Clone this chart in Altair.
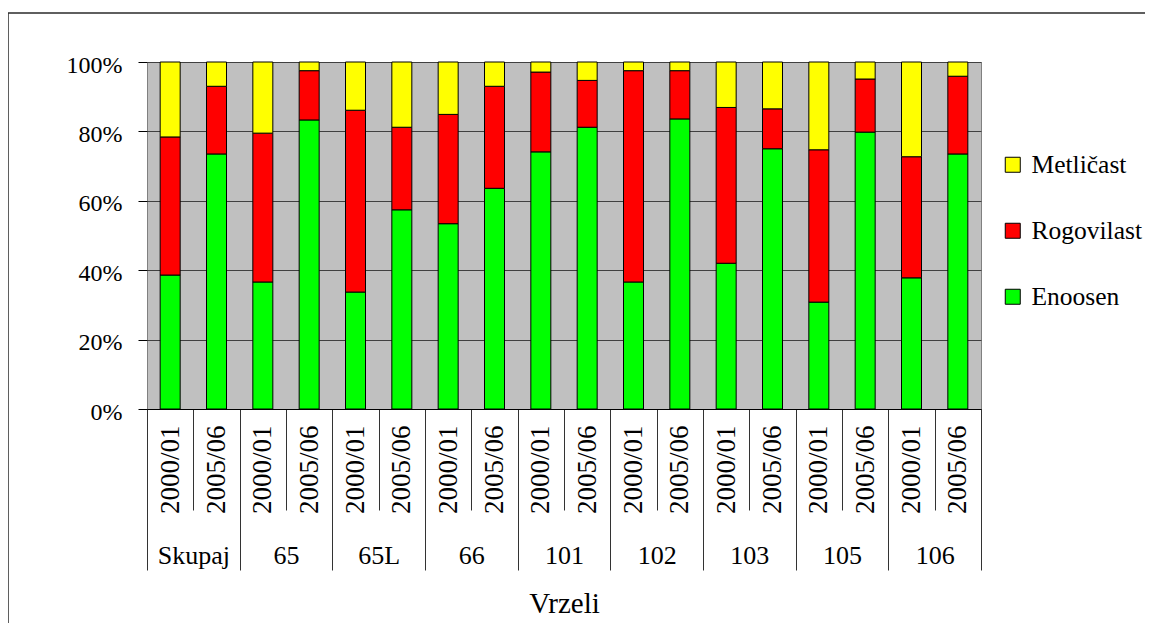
import altair as alt
import pandas as pd

FONT = "Liberation Serif"

groups = ["Skupaj", "65", "65L", "66", "101", "102", "103", "105", "106"]
years = ["2000/01", "2005/06"]
enoosen = [38.6, 73.5, 36.6, 83.3, 33.7, 57.4, 53.4, 63.6, 74.1, 81.2, 36.6, 83.6, 42.0, 75.0, 30.8, 79.8, 37.8, 73.5]
rogovilast = [39.8, 19.5, 42.9, 14.2, 52.4, 23.8, 31.5, 29.4, 23.0, 13.5, 60.9, 13.9, 44.9, 11.5, 43.9, 15.3, 34.9, 22.4]
metlicast = [21.6, 7.0, 20.5, 2.5, 13.9, 18.8, 15.1, 7.0, 2.9, 5.3, 2.5, 2.5, 13.1, 13.5, 25.3, 4.9, 27.3, 4.1]
series = ["Enoosen", "Rogovilast", "Metličast"]
legend_order = ["Metličast", "Rogovilast", "Enoosen"]
legend_colors = ["#FFFF00", "#FF0000", "#00FF00"]
y_ticks = [0, 20, 40, 60, 80, 100]

keys = [f"{g}|{y}" for g in groups for y in years]

rows = []
for i, k in enumerate(keys):
    for order, (name, vals) in enumerate(zip(series, [enoosen, rogovilast, metlicast])):
        rows.append({"key": k, "series": name, "value": vals[i], "order": order})
df = pd.DataFrame(rows)
gdf = pd.DataFrame({"group": groups})

bars = alt.Chart(df).mark_bar(width=20, stroke="black", strokeWidth=1).encode(
    x=alt.X(
        "key:N",
        sort=keys,
        scale=alt.Scale(domain=keys, paddingInner=0, paddingOuter=0),
        axis=alt.Axis(
            orient="bottom", title=None,
            labelExpr="split(datum.label, '|')[1]",
            labelAngle=270, labelAlign="right", labelBaseline="middle",
            labelPadding=-85, tickSize=101, tickBand="extent",
            tickColor="#333333", domainColor="black",
            labelFont=FONT, labelFontSize=27, labelColor="black",
            labelOverlap=False, grid=False,
        ),
    ),
    y=alt.Y(
        "value:Q", stack="zero",
        scale=alt.Scale(domain=[0, 100]),
        axis=alt.Axis(
            orient="left", title=None, values=y_ticks,
            labelExpr="datum.value + '%'",
            tickSize=9, tickColor="black", domain=False,
            grid=True, gridColor="#404040", gridWidth=1,
            labelFont=FONT, labelFontSize=24, labelColor="black",
            labelPadding=16, labelOffset=3,
        ),
    ),
    color=alt.Color(
        "series:N",
        scale=alt.Scale(domain=legend_order, range=legend_colors),
        legend=alt.Legend(
            title=None, orient="none", legendX=853, legendY=90, padding=0,
            symbolType="square", symbolSize=225, symbolStrokeColor="black",
            symbolStrokeWidth=1, labelFont=FONT, labelFontSize=25.5,
            labelColor="black", rowPadding=39, labelOffset=6, labelLimit=300,
        ),
    ),
    order=alt.Order("order:Q"),
)

grp = alt.Chart(gdf).mark_bar(opacity=0).encode(
    x=alt.X(
        "group:N",
        sort=groups,
        scale=alt.Scale(domain=groups, paddingInner=0, paddingOuter=0),
        axis=alt.Axis(
            orient="bottom", title="Vrzeli",
            tickSize=161, tickBand="extent", tickColor="#333333",
            domain=False, labelAngle=0, labelAlign="center",
            labelBaseline="alphabetic", labelPadding=-7,
            labelFont=FONT, labelFontSize=26, labelColor="black",
            labelOverlap=False, grid=False,
            titleFont=FONT, titleFontSize=29, titleFontWeight="normal",
            titleColor="black", titlePadding=19,
        ),
    ),
)

border = alt.Chart(pd.DataFrame({"a": [0]})).mark_rect(
    filled=False, stroke="#2b2b2b", strokeWidth=1.5
).encode(
    x=alt.value(-139), x2=alt.value(1300), y=alt.value(-49), y2=alt.value(900)
)

chart = alt.layer(border, grp, bars).resolve_scale(x="independent").properties(
    width=834, height=347,
    autosize=alt.AutoSizeParams(type="none"),
    padding={"left": 139, "top": 54, "right": 164, "bottom": 214},
).configure_view(fill="#C0C0C0", stroke="#808080")

chart.save("out.html", embed_options={"renderer": "svg", "actions": False})
